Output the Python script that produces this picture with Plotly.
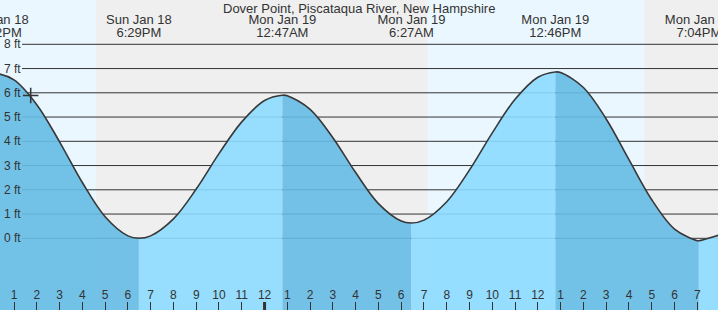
import plotly.graph_objects as go
import pandas as pd

# ---------------- data ----------------
station_title = "Dover Point, Piscataqua River, New Hampshire"

event_times = ["2026-01-18 12:12", "2026-01-18 18:29", "2026-01-19 00:47",
               "2026-01-19 06:27", "2026-01-19 12:46", "2026-01-19 19:04"]
event_heights = [6.80, 0.00, 5.90, 0.63, 6.86, -0.10]
event_day_labels = ["Sun Jan 18", "Sun Jan 18", "Mon Jan 19",
                    "Mon Jan 19", "Mon Jan 19", "Mon Jan 19"]
event_time_labels = ["12:12PM", "6:29PM", "12:47AM", "6:27AM", "12:46PM", "7:04PM"]

# hourly readings from 2026-01-18 12:00 to 2026-01-19 20:00 (ft)
reading_start = "2026-01-18 12:00"
reading_heights = [6.78, 6.53, 5.51, 3.98, 2.30, 0.89, 0.10,
                   0.10, 0.80, 2.03, 3.49, 4.80, 5.68,
                   5.88, 5.32, 4.15, 2.71, 1.43, 0.71,
                   0.75, 1.51, 2.82, 4.35, 5.73, 6.64,
                   6.84, 6.22, 4.92, 3.24, 1.59, 0.38, -0.10,
                   0.15]

now_time = "2026-01-18 13:44"
now_height = 5.89

day_periods = [("2026-01-18 06:00", "2026-01-18 16:36"),
               ("2026-01-19 07:10", "2026-01-19 16:40")]
night_periods = [("2026-01-18 16:36", "2026-01-19 07:10"),
                 ("2026-01-19 16:40", "2026-01-20 07:00")]

hour_tick_start = "2026-01-18 13:00"
hour_tick_labels = ["1", "2", "3", "4", "5", "6", "7", "8", "9", "10", "11", "12",
                    "1", "2", "3", "4", "5", "6", "7", "8", "9", "10", "11", "12",
                    "1", "2", "3", "4", "5", "6", "7"]
midnight_tick = "2026-01-19 00:00"

y_tick_values = [0, 1, 2, 3, 4, 5, 6, 7, 8]
y_tick_labels = ["0 ft", "1 ft", "2 ft", "3 ft", "4 ft", "5 ft", "6 ft", "7 ft", "8 ft"]

x_range = ["2026-01-18 12:23:07", "2026-01-19 19:54:31"]
y_range = [-2.957, 9.827]

# ---------------- styles ----------------
FONT = "Liberation Sans, Arial, sans-serif"
TEXT = "#333333"
DAY_BG = "#ebf7ff"
NIGHT_BG = "#efefef"
RISING_FILL = "rgba(140,218,255,0.9)"
FALLING_FILL = "rgba(101,187,228,0.9)"

# ---------------- build series ----------------
r_times = pd.date_range(reading_start, periods=len(reading_heights), freq="h")
readings = pd.DataFrame({"t": r_times, "h": reading_heights})
events = pd.DataFrame({"t": pd.to_datetime(event_times), "h": event_heights})
series = pd.concat([readings, events]).sort_values("t").drop_duplicates("t").reset_index(drop=True)

bounds = [series["t"].iloc[0]] + list(events["t"]) + [series["t"].iloc[-1]]

fig = go.Figure()

for a, b in zip(bounds[:-1], bounds[1:]):
    seg = series[(series["t"] >= a) & (series["t"] <= b)]
    if len(seg) < 2:
        continue
    rising = seg["h"].iloc[-1] > seg["h"].iloc[0]
    fig.add_trace(go.Scatter(x=seg["t"], y=[y_range[0] - 2] * len(seg), mode="lines",
                             line=dict(width=0), hoverinfo="skip", showlegend=False))
    fig.add_trace(go.Scatter(x=seg["t"], y=seg["h"], mode="lines",
                             line=dict(width=0, shape="spline"), fill="tonexty",
                             fillcolor=RISING_FILL if rising else FALLING_FILL,
                             hoverinfo="skip", showlegend=False))

fig.add_trace(go.Scatter(x=series["t"], y=series["h"], mode="lines",
                         line=dict(color="#383838", width=1.6, shape="spline"),
                         showlegend=False))

fig.add_trace(go.Scatter(x=[now_time], y=[now_height], mode="markers",
                         marker=dict(symbol="cross-thin", size=11,
                                     line=dict(color="#333333", width=1.5)),
                         showlegend=False))

# event labels (two lines each); clipped to the plot area (= whole figure)
fig.add_trace(go.Scatter(x=event_times, y=[21] * len(event_times), text=event_day_labels,
                         mode="text", textfont=dict(family=FONT, size=13, color=TEXT),
                         cliponaxis=True, yaxis="y2", showlegend=False))
fig.add_trace(go.Scatter(x=event_times, y=[33.5] * len(event_times), text=event_time_labels,
                         mode="text", textfont=dict(family=FONT, size=13, color=TEXT),
                         cliponaxis=True, yaxis="y2", showlegend=False))

shapes = []
for s, e in day_periods:
    shapes.append(dict(type="rect", xref="x", yref="paper", x0=s, x1=e, y0=0, y1=1,
                       fillcolor=DAY_BG, line=dict(width=0), layer="below"))
for s, e in night_periods:
    shapes.append(dict(type="rect", xref="x", yref="paper", x0=s, x1=e, y0=0, y1=1,
                       fillcolor=NIGHT_BG, line=dict(width=0), layer="below"))
for v in y_tick_values:
    shapes.append(dict(type="line", xref="paper", yref="y", x0=22 / 718, x1=1, y0=v, y1=v,
                       line=dict(color="#333333", width=1), layer="between"))
shapes.append(dict(type="line", xref="x", yref="paper", x0=midnight_tick, x1=midnight_tick,
                   y0=0, y1=8 / 310, line=dict(color="#333333", width=3), layer="above"))

annotations = [dict(text=station_title, xref="paper", yref="paper", x=0.5, y=1,
                    xanchor="center", yanchor="top", showarrow=False,
                    font=dict(family=FONT, size=13, color=TEXT), yshift=1)]
for v, lab in zip(y_tick_values, y_tick_labels):
    annotations.append(dict(text=lab, xref="paper", yref="y", x=0, y=v,
                            xanchor="left", yanchor="middle", showarrow=False,
                            xshift=2, font=dict(family=FONT, size=12, color=TEXT)))

hour_ticks = pd.date_range(hour_tick_start, periods=len(hour_tick_labels), freq="h")

fig.update_layout(
    width=718, height=310,
    margin=dict(l=0, r=0, t=0, b=0),
    paper_bgcolor="white", plot_bgcolor="white",
    showlegend=False,
    font=dict(family=FONT, size=12, color=TEXT),
    shapes=shapes,
    annotations=annotations,
    xaxis=dict(range=x_range, type="date", showgrid=False, zeroline=False, showline=False,
               tickvals=hour_ticks, ticktext=hour_tick_labels,
               ticks="inside", ticklen=8, tickwidth=1, tickcolor="#333333",
               ticklabelposition="inside", tickfont=dict(family=FONT, size=12, color=TEXT)),
    yaxis=dict(range=y_range, showgrid=False, zeroline=False, showline=False,
               showticklabels=False, ticks=""),
    yaxis2=dict(range=[310, 0], overlaying="y", visible=False),
)

fig.write_html("out.html")
